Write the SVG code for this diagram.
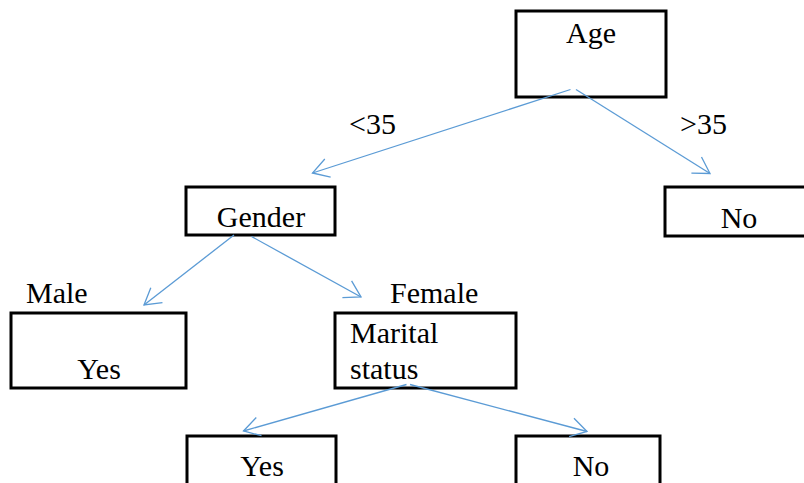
<svg xmlns="http://www.w3.org/2000/svg" width="804" height="483" viewBox="0 0 804 483">
  <style>
    .box { fill: #ffffff; stroke: #000000; stroke-width: 3; }
    .lbl { font-family: "Liberation Serif", "Times New Roman", serif; font-size: 30px; fill: #000000; }
    .edge { fill: none; stroke: #5B9BD5; stroke-width: 1.3; }
  </style>
  <defs>
    <marker id="open" markerUnits="userSpaceOnUse" markerWidth="24" markerHeight="24" viewBox="-20 -12 22 24" refX="0" refY="0" orient="auto">
      <path d="M-16,-9.5 L0,0 L-16,9.5" fill="none" stroke="#5B9BD5" stroke-width="1.3"/>
    </marker>
  </defs>
  <rect width="804" height="483" fill="#ffffff"/>

  <g id="node-age">
    <rect class="box" x="516" y="11" width="150" height="86"/>
    <text class="lbl" x="591" y="43" text-anchor="middle">Age</text>
  </g>
  <g id="node-no-top">
    <rect class="box" x="665" y="187" width="142" height="49"/>
    <text class="lbl" x="739" y="228" text-anchor="middle">No</text>
  </g>
  <g id="node-gender">
    <rect class="box" x="186" y="187" width="149" height="48"/>
    <text class="lbl" x="261" y="226.5" text-anchor="middle">Gender</text>
  </g>
  <g id="node-yes-left">
    <rect class="box" x="11" y="313" width="175" height="75"/>
    <text class="lbl" x="99" y="379" text-anchor="middle">Yes</text>
  </g>
  <g id="node-marital">
    <rect class="box" x="335" y="313" width="181" height="75"/>
    <text class="lbl" x="350" y="343">Marital</text>
    <text class="lbl" x="350" y="379">status</text>
  </g>
  <g id="node-yes-bottom">
    <rect class="box" x="187" y="436" width="149" height="60"/>
    <text class="lbl" x="262" y="476" text-anchor="middle">Yes</text>
  </g>
  <g id="node-no-bottom">
    <rect class="box" x="516" y="436" width="144" height="60"/>
    <text class="lbl" x="591" y="476" text-anchor="middle">No</text>
  </g>

  <g id="edge-labels">
    <text class="lbl" x="349" y="134">&lt;35</text>
    <text class="lbl" x="680" y="134">&gt;35</text>
    <text class="lbl" x="26" y="303">Male</text>
    <text class="lbl" x="390" y="303">Female</text>
  </g>

  <g id="connectors">
    <line class="edge" x1="570.5" y1="89.5" x2="312.5" y2="173" marker-end="url(#open)"/>
    <line class="edge" x1="576" y1="89.5" x2="710" y2="173.5" marker-end="url(#open)"/>
    <line class="edge" x1="234" y1="235" x2="144" y2="305" marker-end="url(#open)"/>
    <line class="edge" x1="251.5" y1="236.5" x2="361" y2="297" marker-end="url(#open)"/>
    <line class="edge" x1="406.5" y1="384.5" x2="243.5" y2="431" marker-end="url(#open)"/>
    <line class="edge" x1="410" y1="384.5" x2="587" y2="431.5" marker-end="url(#open)"/>
  </g>
</svg>
